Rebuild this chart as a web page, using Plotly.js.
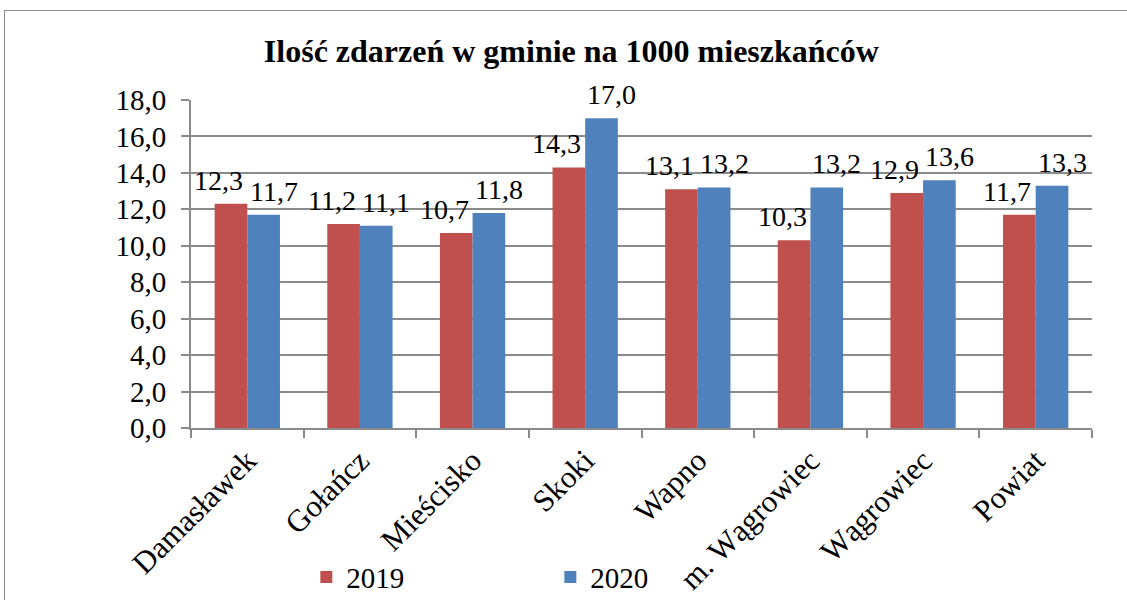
<!DOCTYPE html>
<html><head><meta charset="utf-8">
<script src="https://cdn.plot.ly/plotly-3.0.1.min.js"></script>
<style>html,body{margin:0;padding:0;background:#fff;overflow:hidden}
#wrap{position:relative;width:1127px;height:600px}
#frame{position:absolute;left:4px;top:10px;width:1140px;height:620px;border:1.5px solid #8a8a8a;pointer-events:none;box-sizing:border-box}
</style></head>
<body><div id="wrap"><div id="chart" style="width:1127px;height:600px"></div><div id="frame"></div></div>
<script>
const categories = ["Damasławek","Gołańcz","Mieścisko","Skoki","Wapno","m. Wągrowiec","Wągrowiec","Powiat"];
const values2019 = [12.3,11.2,10.7,14.3,13.1,10.3,12.9,11.7];
const values2020 = [11.7,11.1,11.8,17.0,13.2,13.2,13.6,13.3];
const seriesNames = ["2019","2020"];
const colors = ['#C0504D','#4F81BD'];
const font = "Liberation Serif";
const bargap = 0.42;
const half = (1 - bargap) / 4;

const mk = (name, y, color) => ({
  type:'bar', name:name, x:categories, y:y,
  marker:{color:color}, hoverinfo:'skip'
});
const data = [mk(seriesNames[0], values2019, colors[0]), mk(seriesNames[1], values2020, colors[1])];

const fmt = v => v.toFixed(1).replace('.', ',');
const annotations = [];
[[values2019, -half, -12], [values2020, half, 10]].forEach(([vals, off, xs]) => {
  vals.forEach((v, i) => annotations.push({
    x: i + off, y: v, xref:'x', yref:'y', text: fmt(v), showarrow:false,
    xanchor:'center', yanchor:'bottom', xshift: xs, yshift: 6,
    font:{family:font, size:28, color:'#000'}
  }));
});

const layout = {
  width:1127, height:600,
  margin:{l:191, r:35, t:100, b:172, autoexpand:false},
  paper_bgcolor:'#fff', plot_bgcolor:'#fff',
  separators:', ',
  font:{family:font, size:28, color:'#000'},
  title:{text:'<b>Ilość zdarzeń w gminie na 1000 mieszkańców</b>', font:{family:font,size:32,color:'#000'}, x:0.507, xanchor:'center', y:0.915, yanchor:'middle', yref:'container'},
  barmode:'group', bargap:bargap, bargroupgap:0,
  showlegend:true,
  legend:{orientation:'h', x:0.128, xanchor:'left', y:-0.455, yanchor:'middle', entrywidth:199, entrywidthmode:'pixels', bgcolor:'rgba(0,0,0,0)', font:{family:font,size:29,color:'#000'}, traceorder:'normal'},
  annotations: annotations,
  xaxis:{type:'category', tickangle:-45, tickson:'boundaries', ticks:'outside', ticklen:8, tickcolor:'#8a8a8a', tickwidth:2, showline:true, linecolor:'#8a8a8a', linewidth:2, showgrid:false, tickfont:{family:font,size:31,color:'#000'}, fixedrange:true, automargin:false},
  yaxis:{range:[0,18], dtick:2, tickformat:'.1f', ticks:'outside', ticklen:8, tickcolor:'#8a8a8a', tickwidth:2, showline:true, linecolor:'#8a8a8a', linewidth:2, showgrid:true, gridcolor:'#8a8a8a', gridwidth:2, zeroline:false, ticklabelstandoff:9, tickfont:{family:font,size:29,color:'#000'}, fixedrange:true, automargin:false}
};
Plotly.newPlot('chart', data, layout, {displayModeBar:false, staticPlot:true});
</script></body></html>
